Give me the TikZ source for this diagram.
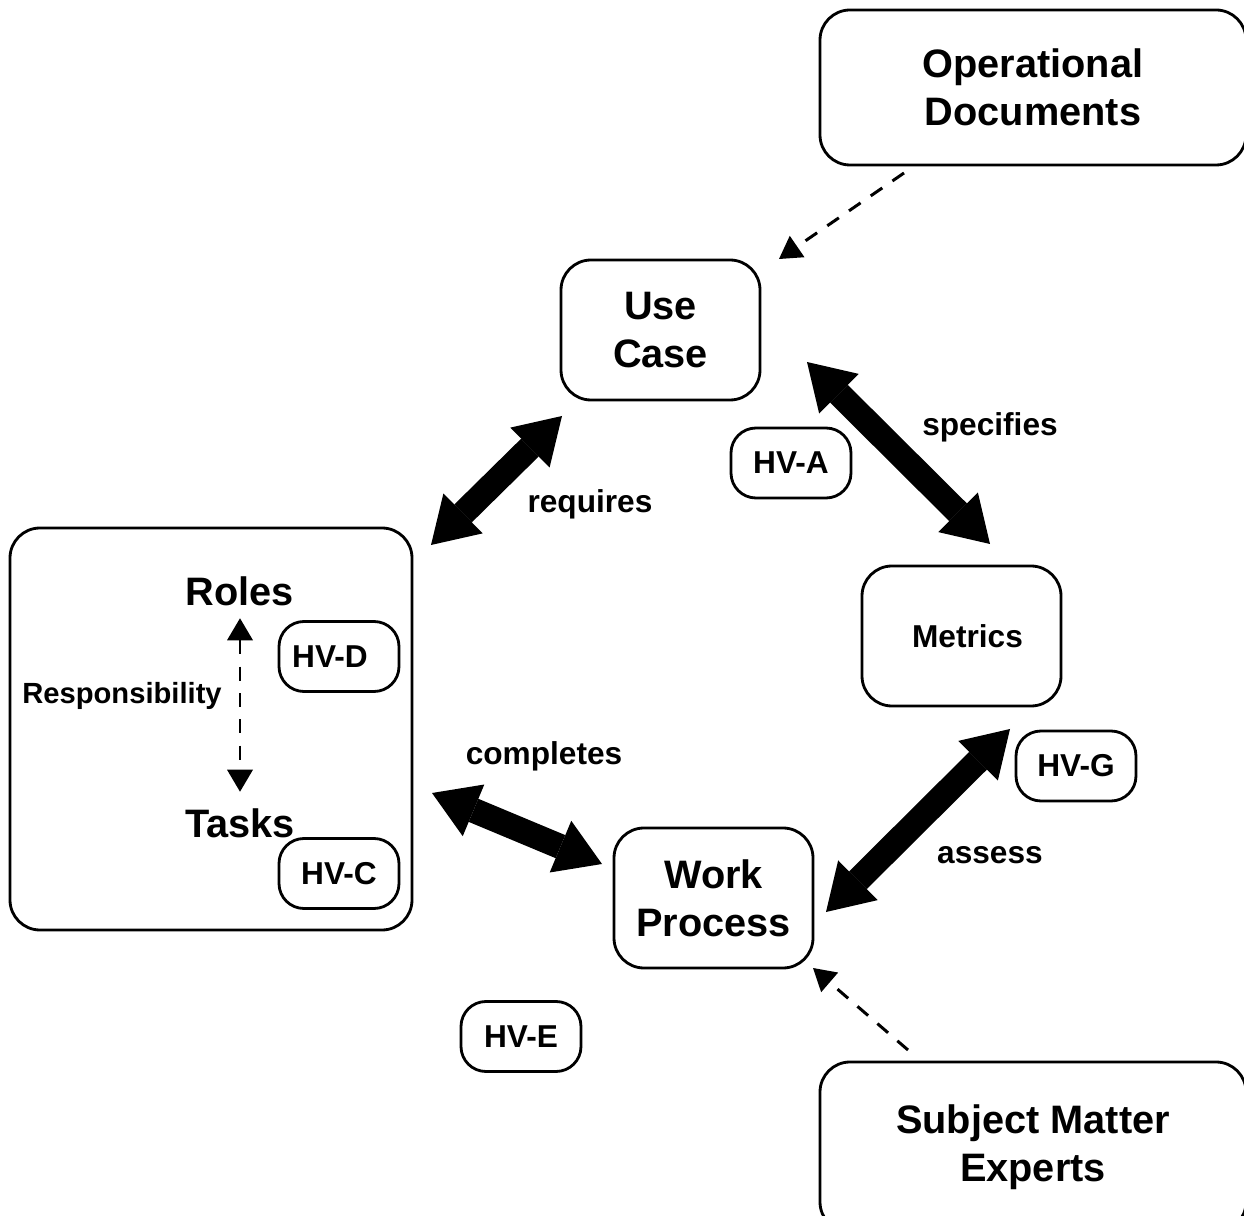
\documentclass[tikz,border=0pt]{standalone}
\usepackage{fontspec}
\setmainfont{Liberation Sans}
\usetikzlibrary{arrows.meta}

\begin{document}
\begin{tikzpicture}[
  box/.style={draw, line width=0.8pt, rounded corners=0.3cm, minimum width=1.99cm, minimum height=1.40cm, inner sep=0pt, align=center, font=\fontsize{11.3}{13.7}\selectfont\bfseries},
  hvbox/.style={draw, line width=0.8pt, rounded corners=0.25cm, minimum width=1.20cm, minimum height=0.70cm, inner sep=0pt, font=\fontsize{9}{11}\selectfont\bfseries},
  lbl/.style={inner sep=0pt, font=\fontsize{9}{11}\selectfont\bfseries},
  bigtext/.style={inner sep=0pt, font=\fontsize{11.3}{13.7}\selectfont\bfseries},
  bigarrow/.style={line width=0.25cm, {Triangle[length=0.45cm,width=0.56cm,line width=0pt]}-{Triangle[length=0.45cm,width=0.56cm,line width=0pt]}},
  dasharrow/.style={line width=0.85pt, dash pattern=on 4pt off 3.5pt, -{Triangle[length=0.22cm,width=0.26cm,line width=0pt]}},
  dashboth/.style={dasharrow, {Triangle[length=0.22cm,width=0.26cm,line width=0pt]}-{Triangle[length=0.22cm,width=0.26cm,line width=0pt]}}
]
\useasboundingbox (0,0) rectangle (12.44,-12.16);

\node[box, minimum width=4.26cm, minimum height=1.55cm] (opdoc) at (10.33,-0.875) {Operational\\Documents};
\node[box] (usecase) at (6.605,-3.30) {Use\\Case};
\node[box, font=\fontsize{9}{11}\selectfont\bfseries] (metrics) at (9.615,-6.36) {\kern0.12cm Metrics};
\node[box] (work) at (7.135,-8.98) {Work\\Process};
\node[box, minimum width=4.26cm, minimum height=1.70cm] (sme) at (10.33,-11.47) {Subject Matter\\Experts};

\node[box, minimum width=4.02cm, minimum height=4.02cm] (rt) at (2.11,-7.29) {};
\node[bigtext] (roles) at (2.40,-5.91) {Roles};
\node[bigtext] (tasks) at (2.40,-8.23) {Tasks};
\node[lbl, font=\fontsize{8.3}{10}\selectfont\bfseries] (resp) at (1.22,-6.96) {Responsibility};
\draw[dashboth, shorten <=0.12cm, shorten >=0.16cm] (roles) -- (tasks);

\node[hvbox] (hva) at (7.91,-4.63) {HV-A};
\node[hvbox] (hvd) at (3.39,-6.565) {HV-D\kern0.18cm};
\node[hvbox] (hvc) at (3.39,-8.735) {HV-C};
\node[hvbox] (hve) at (5.21,-10.365) {HV-E};
\node[hvbox] (hvg) at (10.76,-7.66) {HV-G};

\node[lbl] (req) at (5.90,-5.04) {requires};
\node[lbl] (spec) at (9.90,-4.27) {specifies};
\node[lbl] (comp) at (5.44,-7.56) {completes};
\node[lbl] (ass) at (9.90,-8.55) {assess};

\coordinate (reqA) at (4.31,-5.45);
\coordinate (reqB) at (5.62,-4.16);
\coordinate (specA) at (8.07,-3.62);
\coordinate (specB) at (9.90,-5.44);
\coordinate (compA) at (4.32,-7.93);
\coordinate (compB) at (6.02,-8.64);
\coordinate (assA) at (8.26,-9.12);
\coordinate (assB) at (10.10,-7.29);
\draw[bigarrow] (reqA) -- (reqB);
\draw[bigarrow] (specA) -- (specB);
\draw[bigarrow] (compA) -- (compB);
\draw[bigarrow] (assA) -- (assB);

\coordinate (opA) at (9.04,-1.73);
\coordinate (opB) at (7.79,-2.59);
\coordinate (smeA) at (9.08,-10.50);
\coordinate (smeB) at (8.13,-9.68);
\draw[dasharrow] (opA) -- (opB);
\draw[dasharrow] (smeA) -- (smeB);

\end{tikzpicture}
\end{document}
